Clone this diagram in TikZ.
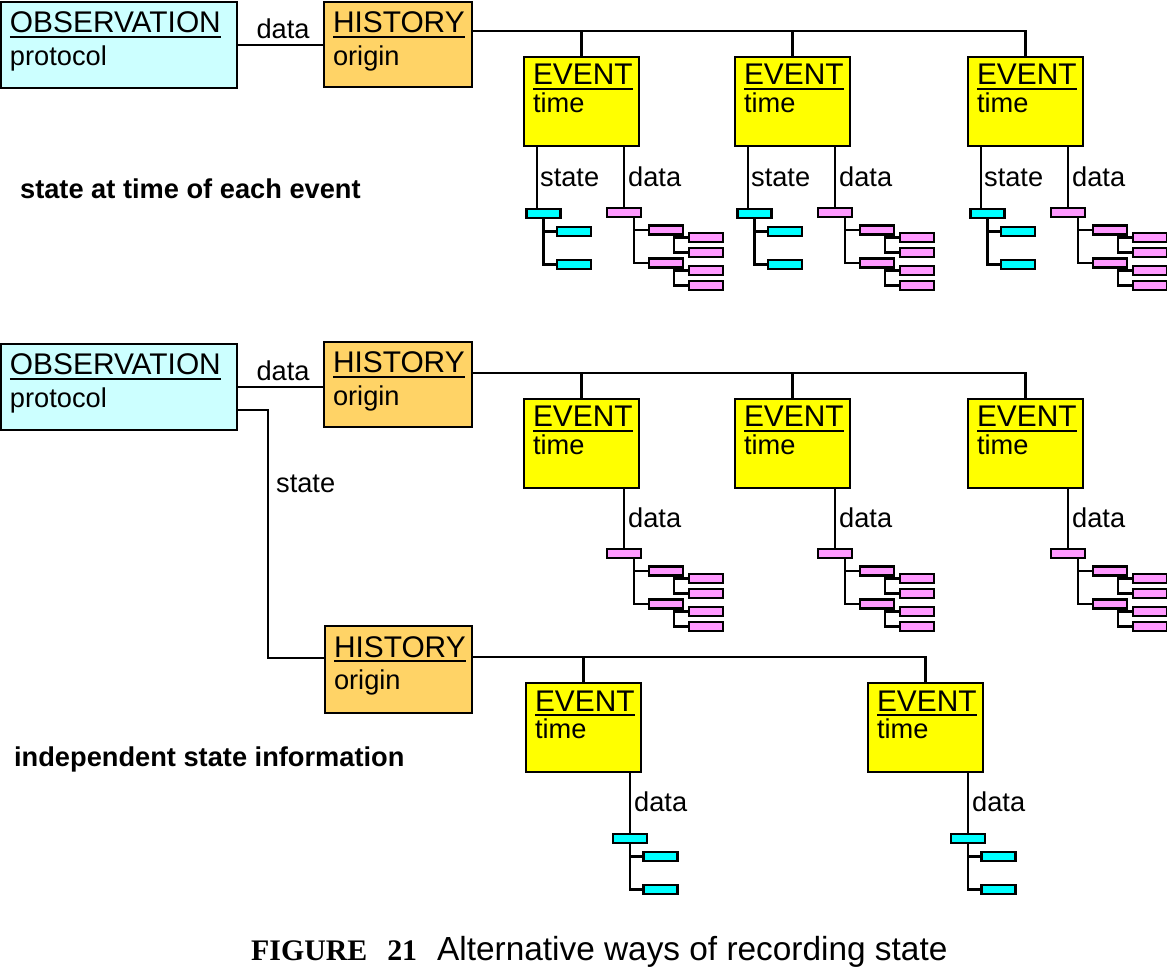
\documentclass[tikz,border=0pt]{standalone}
\usepackage{fontspec}
\setmainfont{Liberation Sans}
\newfontfamily\capserif{Liberation Serif}
\usetikzlibrary{calc}

\definecolor{obscol}{RGB}{204,255,255}
\definecolor{histcol}{RGB}{255,211,102}
\definecolor{eventcol}{RGB}{255,255,0}
\definecolor{leafcyan}{RGB}{0,255,255}
\definecolor{leafpink}{RGB}{255,153,255}

% underlined box heading
\newcommand{\hdr}[1]{\setbox0\hbox{#1}\copy0\llap{\smash{\rule[-0.1cm]{\wd0}{0.045cm}}}}
% box contents: width, height, heading, attribute, first and second baseline
\newcommand{\entitytext}[6]{%
  \begin{minipage}[t][#2][t]{#1}
    \rule{0pt}{#5}\hspace{0.18cm}{\fontsize{17}{20}\selectfont\hdr{#3}}\par
    \nointerlineskip
    \rule{0pt}{#6}\hspace{0.18cm}{\fontsize{15.5}{18}\selectfont #4}%
  \end{minipage}}

\begin{document}
\begin{tikzpicture}[x=0.02cm, y=-0.02cm, line width=1.3pt,
  entity/.style={draw, line width=1.3pt, inner sep=0pt, outer sep=0pt, anchor=north west},
  leaf/.style={draw, line width=1.4pt, inner sep=0pt, minimum width=0.68cm, minimum height=0.18cm},
  branch/.style={line width=1.4pt},
  lbl/.style={inner sep=0pt, font=\fontsize{15.5}{18}\selectfont},
  note/.style={inner sep=0pt, anchor=base west, font=\bfseries\fontsize{15.5}{18}\selectfont},
  pics/cyantree/.style={code={
    \node[leaf, fill=leafcyan] (-root) at (0,5.5) {};
    \node[leaf, fill=leafcyan] (-a) at (30.5,23.5) {};
    \node[leaf, fill=leafcyan] (-b) at (30.5,56.5) {};
    \draw[branch] (-a.west) -| (-root.south);
    \draw[branch] (-b.west) -| (-root.south);
  }},
  pics/pinktree/.style={code={
    \node[leaf, fill=leafpink] (-root) at (0,5.5) {};
    \node[leaf, fill=leafpink] (-a) at (42,23) {};
    \node[leaf, fill=leafpink] (-b) at (42,56) {};
    \foreach \j/\y in {1/30.5,2/45.5,3/63.5,4/78.5}
      \node[leaf, fill=leafpink] (-g\j) at (82,\y) {};
    \coordinate (-v0) at (10,11);
    \coordinate (-v1) at (50,28.5);
    \coordinate (-v2) at (50,61.5);
    \draw[branch] (-a.west) -| (-v0);
    \draw[branch] (-b.west) -| (-v0);
    \draw[branch] (-g1.west) -| (-v1);
    \draw[branch] (-g2.west) -| (-v1);
    \draw[branch] (-g3.west) -| (-v2);
    \draw[branch] (-g4.west) -| (-v2);
  }}]
\useasboundingbox (0,0) rectangle (1167,970);

% state at time of each event
\node[entity, fill=obscol] (obs1) at (1,2) {\entitytext{4.72cm}{1.72cm}{OBSERVATION}{protocol}{0.62cm}{0.64cm}};
\node[entity, fill=histcol] (hist1) at (324,2) {\entitytext{2.96cm}{1.70cm}{HISTORY}{origin}{0.62cm}{0.64cm}};
\foreach \i/\x in {1/524,2/735,3/968}
  \node[entity, fill=eventcol] (e\i) at (\x,57) {\entitytext{2.3cm}{1.78cm}{EVENT}{time}{0.56cm}{0.56cm}};
\draw (obs1.east) -- (obs1.east -| hist1.west);
\node[lbl, anchor=base] (od1) at (283,38) {data};
\draw (hist1.east |- 0,31) -| (e3.north);
\foreach \i in {1,2}
  \draw (e\i.north) -- (e\i.north |- 0,31);
\foreach \i/\x in {1/524,2/735,3/968} {
  \pic (s\i) at (\x+19.5,208) {cyantree};
  \pic (d\i) at (\x+100,207) {pinktree};
  \coordinate (st\i) at ($(e\i.south west)+(13,0)$);
  \draw[line width=1.6pt] (st\i) -- (st\i |- s\i-root.north);
  \draw[line width=1.6pt] (d\i-root.north) -- (d\i-root.north |- e\i.south);
  \node[lbl, anchor=base west] (sl\i) at ($(st\i)+(2,41)$) {state};
  \node[lbl, anchor=base west] (dl\i) at ($(d\i-root.north)+(3,-20)$) {data};
}
\node[note] (n1) at (19,198) {state at time of each event};

% independent state information
\node[entity, fill=obscol] (obs2) at (1,344) {\entitytext{4.72cm}{1.72cm}{OBSERVATION}{protocol}{0.62cm}{0.64cm}};
\node[entity, fill=histcol] (hist2) at (324,342) {\entitytext{2.96cm}{1.70cm}{HISTORY}{origin}{0.62cm}{0.64cm}};
\foreach \i/\x in {4/524,5/735,6/968}
  \node[entity, fill=eventcol] (e\i) at (\x,399) {\entitytext{2.3cm}{1.78cm}{EVENT}{time}{0.56cm}{0.56cm}};
\draw (obs2.east) -- (obs2.east -| hist2.west);
\node[lbl, anchor=base] (od2) at (283,380) {data};
\draw (hist2.east |- 0,373) -| (e6.north);
\foreach \i in {4,5}
  \draw (e\i.north) -- (e\i.north |- 0,373);
\foreach \i/\x in {4/524,5/735,6/968} {
  \pic (d\i) at (\x+100,548) {pinktree};
  \draw[line width=1.6pt] (d\i-root.north) -- (d\i-root.north |- e\i.south);
  \node[lbl, anchor=base west] (dl\i) at ($(d\i-root.north)+(3,-20)$) {data};
}

\node[entity, fill=histcol] (hist3) at (325,626) {\entitytext{2.94cm}{1.74cm}{HISTORY}{origin}{0.62cm}{0.64cm}};
\foreach \i/\x in {7/526,8/868}
  \node[entity, fill=eventcol] (e\i) at (\x,683) {\entitytext{2.3cm}{1.78cm}{EVENT}{time}{0.56cm}{0.56cm}};
\draw[line width=1.7pt] (obs2.east |- 0,410) -- (268,410) |- (hist3.west |- 0,658);
\node[lbl, anchor=base west] (os) at (275,492) {state};
\draw (hist3.east |- 0,657) -| (e8.north);
\draw (e7.north) -- (e7.north |- 0,657);
\foreach \i/\x in {7/630,8/968} {
  \pic (d\i) at (\x,833) {cyantree};
  \draw[line width=1.6pt] (d\i-root.north) -- (d\i-root.north |- e\i.south);
  \node[lbl, anchor=base west] (dl\i) at ($(d\i-root.north)+(3,-21)$) {data};
}
\node[note] (n2) at (13,766) {independent state information};

% caption
\node[inner sep=0pt, anchor=base west] (cap) at (250,960)
  {{\capserif\bfseries\fontsize{17}{20}\selectfont FIGURE\hspace{0.4cm}21}\hspace{0.4cm}{\fontsize{19}{22}\selectfont Alternative ways of recording state}};
\end{tikzpicture}
\end{document}
